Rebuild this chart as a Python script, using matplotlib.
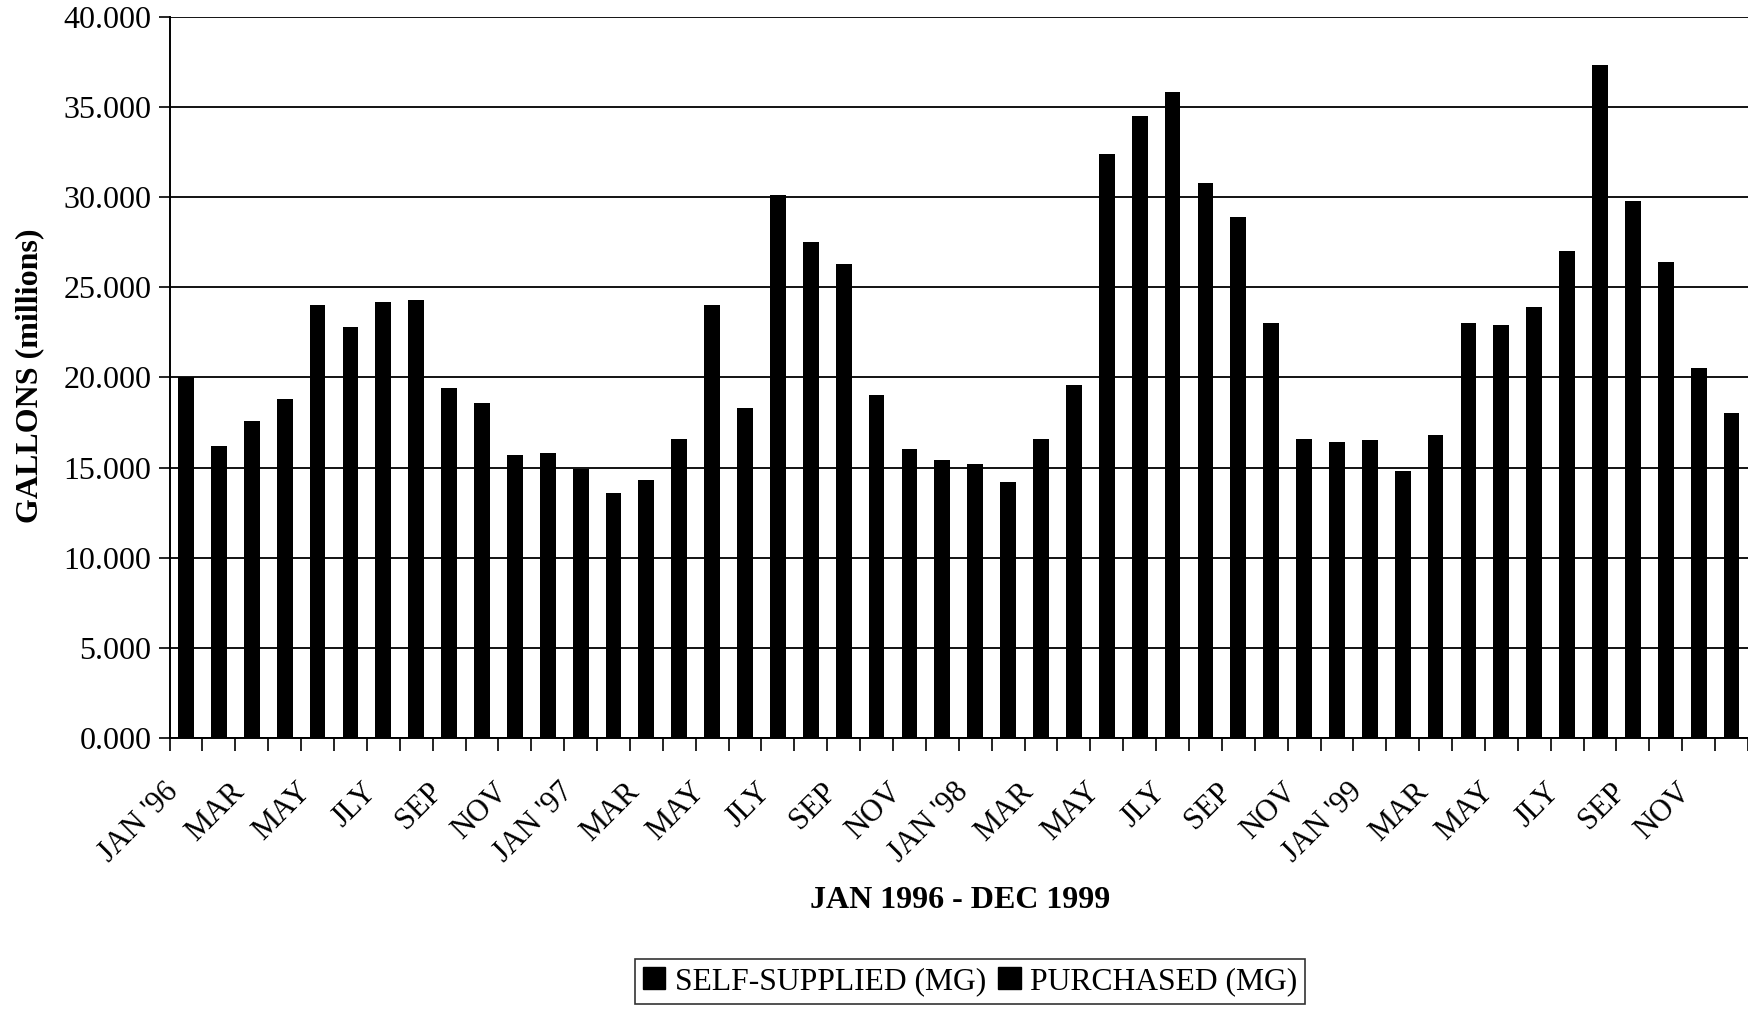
import matplotlib.pyplot as plt
from matplotlib.patches import Patch
from matplotlib.ticker import FixedLocator, FuncFormatter
from matplotlib.transforms import ScaledTranslation

plt.rcParams['font.family'] = ['Liberation Serif', 'DejaVu Serif']

# monthly water use, Jan 1996 - Dec 1999, millions of gallons
months = ["JAN '96", 'FEB', 'MAR', 'APR', 'MAY', 'JUN', 'JLY', 'AUG', 'SEP', 'OCT', 'NOV', 'DEC',
          "JAN '97", 'FEB', 'MAR', 'APR', 'MAY', 'JUN', 'JLY', 'AUG', 'SEP', 'OCT', 'NOV', 'DEC',
          "JAN '98", 'FEB', 'MAR', 'APR', 'MAY', 'JUN', 'JLY', 'AUG', 'SEP', 'OCT', 'NOV', 'DEC',
          "JAN '99", 'FEB', 'MAR', 'APR', 'MAY', 'JUN', 'JLY', 'AUG', 'SEP', 'OCT', 'NOV', 'DEC']
gallons = [20.0, 16.2, 17.6, 18.8, 24.0, 22.8, 24.2, 24.3, 19.4, 18.6, 15.7, 15.8,
           14.9, 13.6, 14.3, 16.6, 24.0, 18.3, 30.1, 27.5, 26.3, 19.0, 16.0, 15.4,
           15.2, 14.2, 16.6, 19.6, 32.4, 34.5, 35.8, 30.8, 28.9, 23.0, 16.6, 16.4,
           16.5, 14.8, 16.8, 23.0, 22.9, 23.9, 27.0, 37.3, 29.8, 26.4, 20.5, 18.0]
legend_names = ['SELF-SUPPLIED (MG)', 'PURCHASED (MG)']

fig = plt.figure(figsize=(17.48, 10.10), dpi=100)
ax = fig.add_axes([0.097, 0.2693, 0.903, 0.7142])

x = list(range(len(months)))
ax.bar(x, gallons, width=0.48, color='black', zorder=3)

ax.set_ylim(0, 40)
ax.set_xlim(-0.5, len(months) - 0.5)
ax.set_yticks([0, 5, 10, 15, 20, 25, 30, 35, 40])
ax.yaxis.set_major_formatter(FuncFormatter(lambda v, p: f'{v:.3f}'))
ax.grid(axis='y', color='black', linewidth=1.3, zorder=1)

# labels every other month, tick marks on month boundaries
ax.set_xticks(x[::2])
ax.set_xticklabels(months[::2], rotation=45, ha='right', rotation_mode='anchor')
ax.xaxis.set_minor_locator(FixedLocator([i - 0.5 for i in range(len(months) + 1)]))
ax.tick_params(axis='x', which='major', length=0, labelsize=22, pad=14)
ax.tick_params(axis='x', which='minor', length=9, width=1.2, color='black')
ax.tick_params(axis='y', length=8, width=1.2, labelsize=23, pad=5)

shift = ScaledTranslation(-0.22, -0.2, fig.dpi_scale_trans)
for lbl in ax.get_xticklabels():
    lbl.set_transform(lbl.get_transform() + shift)

for s in ['top', 'right']:
    ax.spines[s].set_visible(False)
for s in ['left', 'bottom']:
    ax.spines[s].set_linewidth(1.4)

fig.text(0.017, 0.628, 'GALLONS (millions)', fontsize=23, fontweight='bold',
         rotation=90, ha='center', va='center')
fig.text(0.549, 0.108, 'JAN 1996 - DEC 1999', fontsize=23, fontweight='bold',
         ha='center', va='center')

handles = [Patch(facecolor='black', edgecolor='black', label=n) for n in legend_names]
leg = fig.legend(handles=handles, loc='center', bbox_to_anchor=(0.555, 0.028), ncol=2,
                 fontsize=22.8, frameon=True, fancybox=False, handlelength=0.7,
                 handleheight=0.7, handletextpad=0.3, columnspacing=0.4,
                 borderpad=0.25)
leg.get_frame().set_edgecolor('black')
leg.get_frame().set_linewidth(1.2)

fig.savefig('out.png', dpi=100)
